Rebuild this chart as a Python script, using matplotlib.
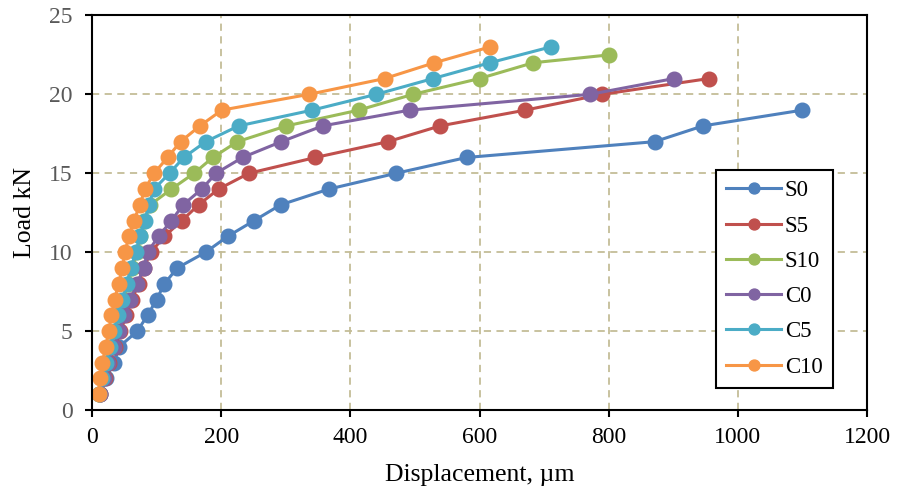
import numpy as np
import matplotlib
matplotlib.use('Agg')
import matplotlib.pyplot as plt

plt.rcParams['font.family'] = ['Liberation Serif', 'DejaVu Serif']

# Load steps (kN) and displacement (um)
load_s0 = [1, 2, 3, 4, 5, 6, 7, 8, 9, 10, 11, 12, 13, 14, 15, 16, 17, 18, 19]
disp_s0 = [13, 21, 34, 42, 70, 86, 100, 112, 132, 176, 210, 251, 292, 367, 471, 580, 871, 946, 1100]

load_s5 = list(range(1, 22))
disp_s5 = [13, 20, 26, 36, 44, 53, 62, 72, 80, 91, 112, 139, 165, 196, 243, 346, 458, 539, 671, 790, 955]

load_s10 = list(range(1, 23)) + [22.5]
disp_s10 = [11, 16, 22, 28, 35, 42, 49, 56, 62, 70, 75, 81, 90, 123, 158, 187, 225, 301, 413, 497, 600, 683, 801]

load_c0 = list(range(1, 22))
disp_c0 = [13, 18, 24, 34, 42, 50, 59, 70, 80, 86, 103, 123, 141, 170, 192, 233, 293, 357, 492, 771, 901]

load_c5 = list(range(1, 24))
disp_c5 = [11, 16, 22, 28, 34, 40, 47, 54, 60, 68, 74, 82, 88, 96, 120, 142, 176, 227, 341, 440, 528, 616, 710]

load_c10 = list(range(1, 24))
disp_c10 = [10, 12, 16, 21, 26, 30, 35, 41, 47, 51, 57, 65, 74, 82, 96, 117, 137, 167, 201, 336, 453, 530, 616]

labels = ['S0', 'S5', 'S10', 'C0', 'C5', 'C10']
colors = ['#4F81BD', '#C0504D', '#9BBB59', '#8064A2', '#4BACC6', '#F79646']
series = [(disp_s0, load_s0), (disp_s5, load_s5), (disp_s10, load_s10),
          (disp_c0, load_c0), (disp_c5, load_c5), (disp_c10, load_c10)]

fig = plt.figure(figsize=(8.98, 4.97), dpi=100)
ax = fig.add_axes([0.1025, 0.175, 0.863, 0.794])

for (d, l), lab, c in zip(series, labels, colors):
    ax.plot(d, l, '-o', color=c, lw=2.2, ms=10.5, label=lab)

ax.set_xlim(0, 1200)
ax.set_ylim(0, 25)
ax.set_xticks(np.arange(0, 1201, 200))
ax.set_yticks(np.arange(0, 26, 5))
ax.grid(True, ls=(0, (4, 3)), color='#C4BD97', lw=1.3)
ax.set_axisbelow(True)

for s in ax.spines.values():
    s.set_color('black')
    s.set_linewidth(1.5)

ax.tick_params(axis='x', direction='out', length=5, width=1.5, labelsize=17, pad=7, colors='black')
ax.tick_params(axis='y', direction='out', length=5, width=1.5, labelsize=17, pad=9,
               labelcolor='#595959')

ax.set_xlabel('Displacement, µm', fontsize=18.5, labelpad=12)
ax.set_ylabel('Load kN', fontsize=18.5, labelpad=9)

leg = ax.legend(loc='upper left', bbox_to_anchor=(0.805, 0.608), fontsize=16.5,
                handlelength=2.4, handletextpad=0.15, labelspacing=0.62,
                borderpad=0.45, borderaxespad=0, fancybox=False, framealpha=1,
                edgecolor='black', markerscale=0.75)
leg.get_frame().set_linewidth(1.5)

fig.savefig('out.png', dpi=100)
